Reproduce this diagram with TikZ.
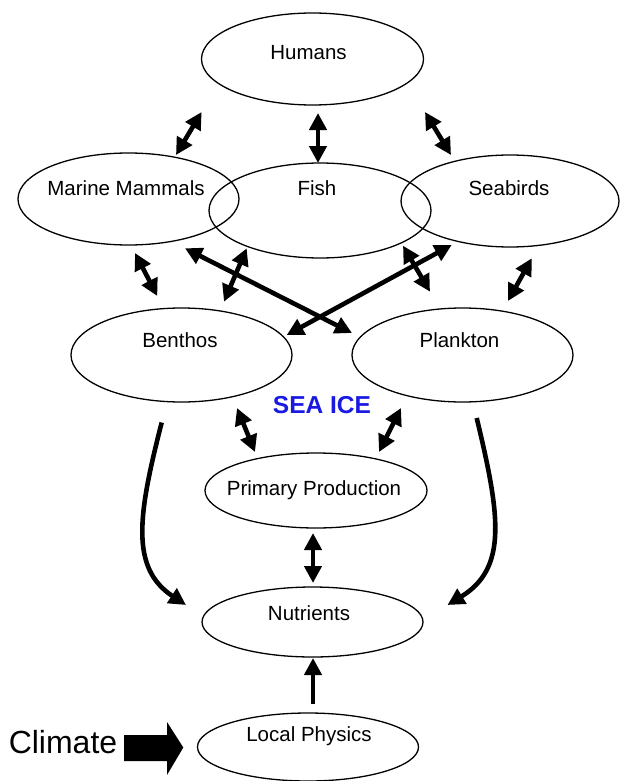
\documentclass[tikz,border=0pt]{standalone}
\usepackage{fontspec}
\setmainfont{Liberation Sans}
\usetikzlibrary{shapes.geometric,arrows.meta}
\definecolor{iceblue}{RGB}{25,25,225}
\begin{document}
\begin{tikzpicture}[x=1pt,y=-1pt,
  blob/.style={ellipse, draw, line width=1.3pt, inner sep=0pt},
  lbl/.style={font=\fontsize{20.5}{23}\selectfont, anchor=base, inner sep=0pt},
  dbl/.style={line width=4.6pt, {Triangle[length=17pt,width=17pt]}-{Triangle[length=17pt,width=17pt]}},
  sgl/.style={line width=4.6pt, -{Triangle[length=17pt,width=17pt]}},
]
\useasboundingbox (0,0) rectangle (620,781);

% ellipses
\node[blob, minimum width=222pt, minimum height=92pt] (hum) at (312.5,59) {};
\node[blob, minimum width=221pt, minimum height=92pt] (mm) at (128.5,199) {};
\node[blob, minimum width=222pt, minimum height=95pt] (fish) at (320,210.5) {};
\node[blob, minimum width=218pt, minimum height=92pt] (sb) at (510,201) {};
\node[blob, minimum width=221pt, minimum height=94pt] (ben) at (181.5,355) {};
\node[blob, minimum width=221pt, minimum height=94pt] (pla) at (462.5,355) {};
\node[blob, minimum width=222pt, minimum height=75pt] (pp) at (316,490.5) {};
\node[blob, minimum width=221pt, minimum height=70pt] (nut) at (312.5,622) {};
\node[blob, minimum width=221pt, minimum height=68pt] (lp) at (308,747) {};

% labels
\node[lbl] (humT) at (308.5,60) {Humans};
\node[lbl] (mmT) at (126,195) {Marine Mammals};
\node[lbl] (fishT) at (317,195) {Fish};
\node[lbl] (sbT) at (509,195) {Seabirds};
\node[lbl] (benT) at (180,347) {Benthos};
\node[lbl] (plaT) at (459.5,347) {Plankton};
\node[lbl] (ppT) at (314,495) {Primary Production};
\node[lbl] (nutT) at (309,620) {Nutrients};
\node[lbl] (lpT) at (309,741.5) {Local Physics};
\node[anchor=base, inner sep=0pt, text=iceblue, font=\fontsize{24.5}{27}\selectfont\bfseries] (ice) at (322,413) {SEA ICE};
\node[anchor=base, inner sep=0pt, font=\fontsize{32}{36}\selectfont] (clim) at (63,753) {Climate};

% arrow end points
\coordinate (hm1) at (201.6,112); \coordinate (hm2) at (176,155);
\coordinate (hf1) at (318,113);   \coordinate (hf2) at (318,163);
\coordinate (hs1) at (425,112);   \coordinate (hs2) at (451,155);
\coordinate (mb1) at (135,253);   \coordinate (mb2) at (157.3,296);
\coordinate (fb1) at (246.7,248.3); \coordinate (fb2) at (224,301.7);
\coordinate (mp1) at (185,248.3); \coordinate (mp2) at (352,333);
\coordinate (sbb1) at (451.7,245); \coordinate (sbb2) at (286.7,335);
\coordinate (fp1) at (403,245.7); \coordinate (fp2) at (430,291.7);
\coordinate (sp1) at (531.7,258.3); \coordinate (sp2) at (508,301);
\coordinate (bp1) at (237,408);   \coordinate (bp2) at (255,452);
\coordinate (pp1) at (401,408);   \coordinate (pp2) at (379,452);
\coordinate (pn1) at (313,533);   \coordinate (pn2) at (313,583);
\coordinate (ln1) at (313,704);   \coordinate (ln2) at (313,658);
\coordinate (bn1) at (161.7,422.5); \coordinate (bn2) at (186,605);
\coordinate (pln1) at (476.7,418); \coordinate (pln2) at (447.5,605);

% connectors
\draw[dbl] (hm1) -- (hm2);
\draw[dbl] (hf1) -- (hf2);
\draw[dbl] (hs1) -- (hs2);
\draw[dbl] (mb1) -- (mb2);
\draw[dbl] (fb1) -- (fb2);
\draw[dbl] (mp1) -- (mp2);
\draw[dbl] (sbb1) -- (sbb2);
\draw[dbl] (fp1) -- (fp2);
\draw[dbl] (sp1) -- (sp2);
\draw[dbl] (bp1) -- (bp2);
\draw[dbl] (pp1) -- (pp2);
\draw[dbl] (pn1) -- (pn2);
\draw[sgl] (ln1) -- (ln2);
\draw[sgl] (bn1) .. controls (138,515) and (130,568) .. (bn2);
\draw[sgl] (pln1) .. controls (500,515) and (508,568) .. (pln2);

% climate arrow
\fill (124,735) -- (167,735) -- (167,722) -- (183.3,747.5) -- (167,775) -- (167,761) -- (124,761) -- cycle;
\end{tikzpicture}
\end{document}
